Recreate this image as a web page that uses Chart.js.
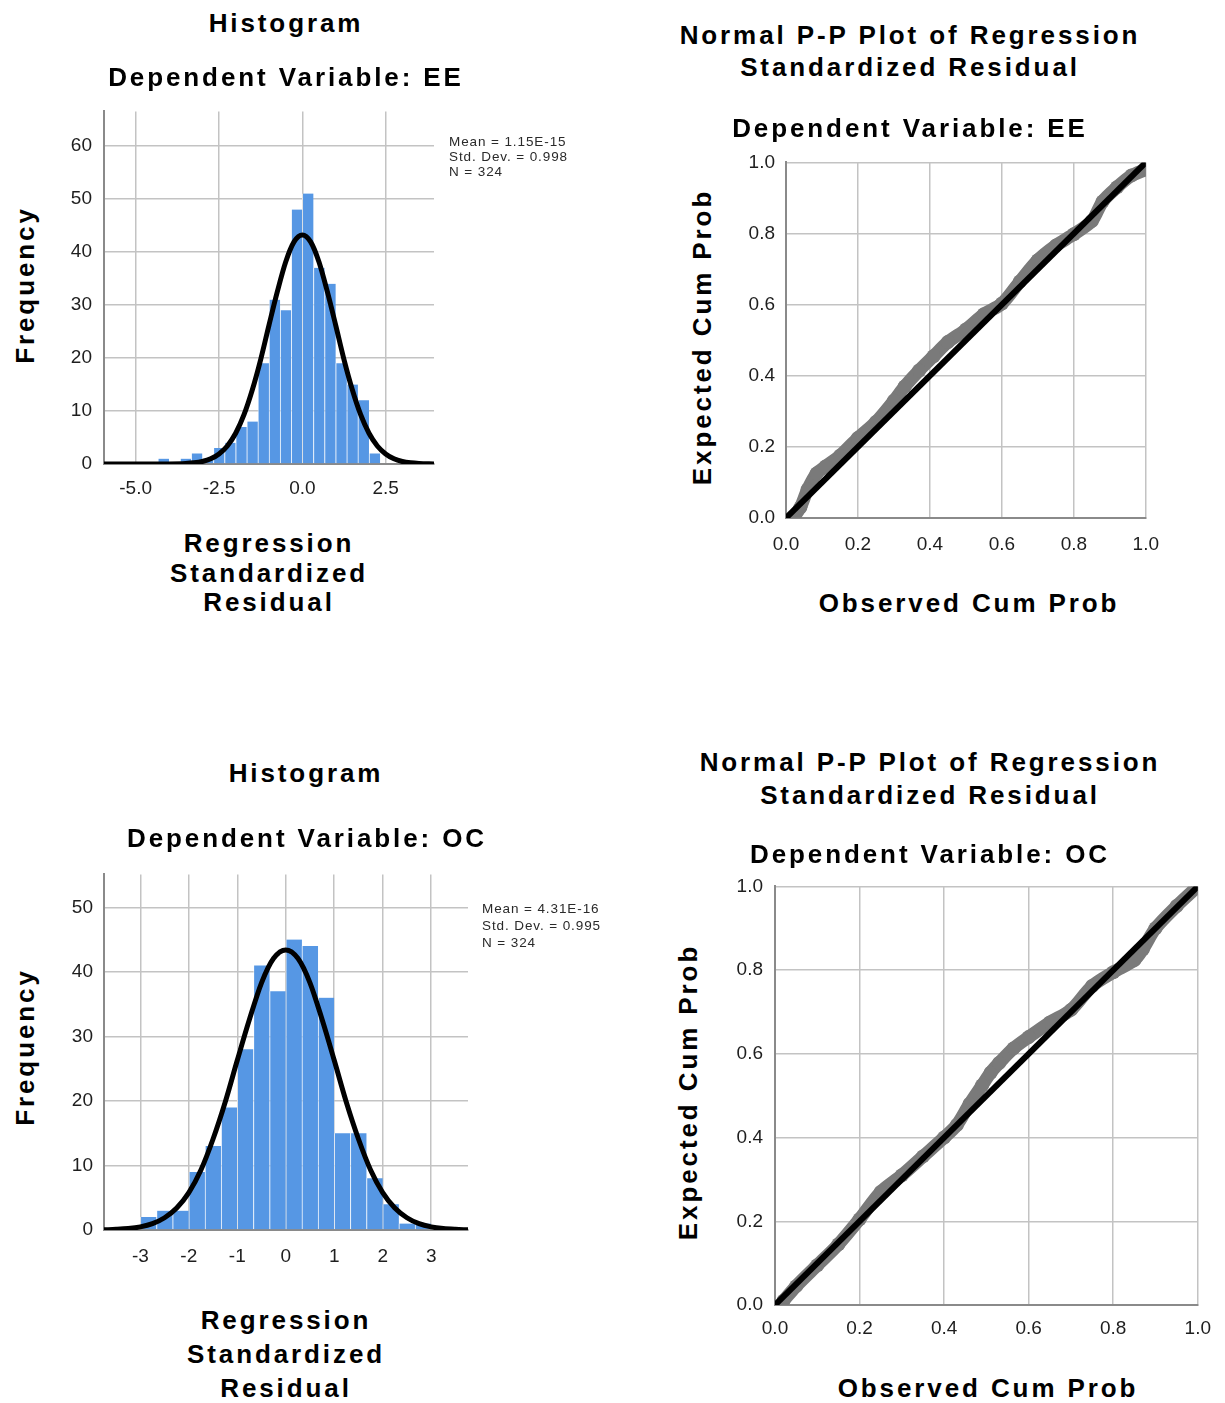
<!DOCTYPE html>
<html>
<head>
<meta charset="utf-8">
<title>Regression residual diagnostics</title>
<script src="https://cdn.jsdelivr.net/npm/chart.js@4.4.1/dist/chart.umd.min.js"></script>
<style>
  html, body { margin: 0; padding: 0; background: #fff; }
  body { width: 1225px; height: 1403px; position: relative; overflow: hidden; font-family: "Liberation Sans", Arial, sans-serif; }
  canvas { position: absolute; }
  .t { position: absolute; white-space: nowrap; font-weight: bold; font-size: 26px; letter-spacing: 2.9px; line-height: 1; color: #000; transform: translate(-50%, -50%); }
  .v { transform: translate(-50%, -50%) rotate(-90deg); }
  .stats { position: absolute; white-space: nowrap; font-size: 13.5px; letter-spacing: 0.9px; color: #2a2a2a; }
</style>
</head>
<body>
<canvas id="histEE"></canvas>
<canvas id="ppEE"></canvas>
<canvas id="histOC"></canvas>
<canvas id="ppOC"></canvas>

<!-- top left: histogram EE -->
<div class="t" style="left:286px; top:23px;">Histogram</div>
<div class="t" style="left:286px; top:77px;">Dependent Variable: EE</div>
<div class="t v" style="left:25px; top:285px;">Frequency</div>
<div class="t" style="left:269px; top:543px;">Regression</div>
<div class="t" style="left:269px; top:573px;">Standardized</div>
<div class="t" style="left:269px; top:602px;">Residual</div>
<div class="stats" style="left:449px; top:134px; line-height:15px;">Mean = 1.15E-15<br>Std. Dev. = 0.998<br>N = 324</div>

<!-- top right: P-P plot EE -->
<div class="t" style="left:910px; top:35px;">Normal P-P Plot of Regression</div>
<div class="t" style="left:910px; top:67px;">Standardized Residual</div>
<div class="t" style="left:910px; top:128px;">Dependent Variable: EE</div>
<div class="t v" style="left:702px; top:337px;">Expected Cum Prob</div>
<div class="t" style="left:969px; top:603px;">Observed Cum Prob</div>

<!-- bottom left: histogram OC -->
<div class="t" style="left:306px; top:773px;">Histogram</div>
<div class="t" style="left:307px; top:838px;">Dependent Variable: OC</div>
<div class="t v" style="left:25px; top:1047px;">Frequency</div>
<div class="t" style="left:286px; top:1320px;">Regression</div>
<div class="t" style="left:286px; top:1354px;">Standardized</div>
<div class="t" style="left:286px; top:1388px;">Residual</div>
<div class="stats" style="left:482px; top:900px; line-height:17px;">Mean = 4.31E-16<br>Std. Dev. = 0.995<br>N = 324</div>

<!-- bottom right: P-P plot OC -->
<div class="t" style="left:930px; top:762px;">Normal P-P Plot of Regression</div>
<div class="t" style="left:930px; top:795px;">Standardized Residual</div>
<div class="t" style="left:930px; top:854px;">Dependent Variable: OC</div>
<div class="t v" style="left:688px; top:1092px;">Expected Cum Prob</div>
<div class="t" style="left:988px; top:1388px;">Observed Cum Prob</div>

<script>
// Histogram EE - bin centres (width 1/3) and counts
const eeBinCenters = [-4.167, -3.833, -3.5, -3.167, -2.833, -2.5, -2.167, -1.833, -1.5, -1.167, -0.833, -0.5, -0.167, 0.167, 0.5, 0.833, 1.167, 1.5, 1.833, 2.167];
const eeCounts = [1, 0, 1, 2, 1, 3, 4, 7, 8, 19, 31, 29, 48, 51, 37, 34, 19, 15, 12, 2];
// normal curve drawn over it
const eeCurveX = [-5.95, -5, -4.5, -4, -3.5, -3.25, -3, -2.75, -2.5, -2.25, -2, -1.75, -1.5, -1.25, -1, -0.75, -0.5, -0.25, 0, 0.25, 0.5, 0.75, 1, 1.25, 1.5, 1.75, 2, 2.25, 2.5, 2.75, 3, 3.25, 3.5, 3.95];
const eeCurveY = [0, 0, 0, 0.01, 0.09, 0.22, 0.48, 0.98, 1.9, 3.4, 5.8, 9.3, 14.0, 19.7, 26.2, 32.5, 38.1, 41.9, 43.2, 41.9, 38.1, 32.5, 26.2, 19.7, 14.0, 9.3, 5.8, 3.4, 1.9, 0.98, 0.48, 0.22, 0.09, 0.01];

// Histogram OC
const ocBinCenters = [-2.833, -2.5, -2.167, -1.833, -1.5, -1.167, -0.833, -0.5, -0.167, 0.167, 0.5, 0.833, 1.167, 1.5, 1.833, 2.167, 2.5, 2.833];
const ocCounts = [2, 3, 3, 9, 13, 19, 28, 41, 37, 45, 44, 36, 15, 15, 8, 4, 1, 1];
const ocCurveX = [-3.75, -3.5, -3.25, -3, -2.75, -2.5, -2.25, -2, -1.75, -1.5, -1.25, -1, -0.75, -0.5, -0.25, 0, 0.25, 0.5, 0.75, 1, 1.25, 1.5, 1.75, 2, 2.25, 2.5, 2.75, 3, 3.25, 3.5, 3.76];
const ocCurveY = [0.04, 0.1, 0.22, 0.48, 0.98, 1.9, 3.4, 5.8, 9.3, 14.1, 19.8, 26.3, 32.6, 38.3, 42.1, 43.4, 42.1, 38.3, 32.6, 26.3, 19.8, 14.1, 9.3, 5.8, 3.4, 1.9, 0.98, 0.48, 0.22, 0.1, 0.04];

// P-P plot EE - observed vs expected cumulative probability
const ppEEObserved = [0.02, 0.04, 0.06, 0.085, 0.11, 0.15, 0.2, 0.25, 0.3, 0.33, 0.37, 0.41, 0.45, 0.5, 0.55, 0.6, 0.65, 0.7, 0.75, 0.8, 0.85, 0.88, 0.92, 0.96, 1.0];
const ppEEExpected = [0.0, 0.03, 0.08, 0.125, 0.145, 0.175, 0.225, 0.27, 0.33, 0.37, 0.415, 0.455, 0.495, 0.53, 0.573, 0.603, 0.665, 0.725, 0.766, 0.798, 0.835, 0.89, 0.93, 0.963, 0.98];
// P-P plot OC
const ppOCObserved = [0.02, 0.05, 0.1, 0.15, 0.2, 0.25, 0.3, 0.35, 0.4, 0.43, 0.46, 0.49, 0.51, 0.53, 0.564, 0.6, 0.65, 0.7, 0.75, 0.8, 0.85, 0.87, 0.9, 0.95, 1.0];
const ppOCExpected = [0.01, 0.045, 0.095, 0.145, 0.205, 0.27, 0.31, 0.355, 0.4, 0.43, 0.48, 0.525, 0.555, 0.578, 0.613, 0.64, 0.675, 0.705, 0.762, 0.795, 0.824, 0.85, 0.9, 0.953, 1.0];
const refLine = [0, 1];

// tick labels
const eeXTicks = [-5, -2.5, 0, 2.5];
const ocXTicks = [-3, -2, -1, 0, 1, 2, 3];
const ppTicks = [0, 0.2, 0.4, 0.6, 0.8, 1.0];

const GRID = '#c3c3c3';
const AXIS = '#8a8a8a';
const BLUE = '#5697e4';
const TICK_FONT = { family: 'Liberation Sans', size: 19 };

function zip(xs, ys) {
    return xs.map((x, i) => ({ x: x, y: ys[i] }));
}

// place a canvas so that its plot area lands on the given box
function placeCanvas(id, area, padRight) {
    const canvas = document.getElementById(id);
    const w = area.r - area.l + 60 + padRight;
    const h = area.b - area.t + 15 + 45;
    canvas.width = w;
    canvas.height = h;
    canvas.style.left = (area.l - 60) + 'px';
    canvas.style.top = (area.t - 15) + 'px';
    canvas.style.width = w + 'px';
    canvas.style.height = h + 'px';
    return canvas.getContext('2d');
}

function axis(min, max, step, tickValues, padding, fmt, isX) {
    return {
        type: 'linear',
        min: min,
        max: max,
        offset: false,
        grid: { color: GRID, lineWidth: 1.5, drawTicks: false, offset: false },
        border: { display: true, color: AXIS, width: 2 },
        ticks: {
            stepSize: step,
            includeBounds: false,
            autoSkip: false,
            maxRotation: 0,
            padding: padding,
            color: '#1e1e1e',
            font: TICK_FONT,
            callback: v => tickValues.some(t => Math.abs(t - v) < 1e-9) ? fmt(v) : ''
        },
        afterFit: s => {
            if (isX) s.height = 45; else s.width = 60;
        }
    };
}

function baseOptions(scales) {
    return {
        responsive: false,
        animation: false,
        layout: { padding: { top: 15, right: 22, left: 0, bottom: 0 } },
        plugins: { legend: { display: false }, tooltip: { enabled: false }, title: { display: false } },
        scales: scales
    };
}

function drawHistogram(id, area, centers, counts, curveX, curveY, x, y) {
    const ctx = placeCanvas(id, area, 22);
    new Chart(ctx, {
        type: 'bar',
        data: {
            datasets: [
                {
                    type: 'line',
                    data: zip(curveX, curveY),
                    borderColor: '#000',
                    borderWidth: 5,
                    pointRadius: 0,
                    tension: 0.4,
                    cubicInterpolationMode: 'monotone',
                    fill: false,
                    order: 0
                },
                {
                    type: 'bar',
                    data: zip(centers, counts),
                    backgroundColor: BLUE,
                    borderColor: 'rgba(255,255,255,0.55)',
                    borderWidth: { left: 1, right: 0, top: 0, bottom: 0 },
                    borderSkipped: false,
                    barPercentage: 1,
                    categoryPercentage: 1,
                    order: 1
                }
            ]
        },
        options: baseOptions({ x: x, y: y })
    });
}

function drawPP(id, area, observed, expected, x, y, padRight) {
    const ctx = placeCanvas(id, area, padRight);
    new Chart(ctx, {
        type: 'scatter',
        data: {
            datasets: [
                {
                    data: zip(refLine, refLine),
                    showLine: true,
                    borderColor: '#000',
                    borderWidth: 6,
                    pointRadius: 0,
                    order: 0
                },
                {
                    data: zip(observed, expected),
                    showLine: true,
                    borderColor: '#7a7a7a',
                    borderWidth: 13,
                    borderCapStyle: 'round',
                    borderJoinStyle: 'round',
                    tension: 0.3,
                    pointRadius: 7,
                    pointBackgroundColor: '#7a7a7a',
                    pointBorderWidth: 0,
                    order: 1
                }
            ]
        },
        options: baseOptions({ x: x, y: y })
    });
}

const one = v => v.toFixed(1);
const whole = v => String(Math.round(v));

drawHistogram('histEE', { l: 104, t: 103, r: 434, b: 464 }, eeBinCenters, eeCounts, eeCurveX, eeCurveY,
    axis(-5.95, 3.95, 2.5, eeXTicks, 13, one, true),
    axis(0, 66.5, 10, [0, 10, 20, 30, 40, 50, 60], 12, whole, false));

drawHistogram('histOC', { l: 104, t: 867, r: 468, b: 1230 }, ocBinCenters, ocCounts, ocCurveX, ocCurveY,
    axis(-3.75, 3.76, 1, ocXTicks, 15, whole, true),
    axis(0, 55.1, 10, [0, 10, 20, 30, 40, 50], 11, whole, false));

drawPP('ppEE', { l: 786, t: 155, r: 1152, b: 518 }, ppEEObserved, ppEEExpected,
    axis(0, 1, 0.2, ppTicks, 15, one, true),
    axis(0, 1, 0.2, ppTicks, 11, one, false), 22);

drawPP('ppOC', { l: 775, t: 878, r: 1203, b: 1305 }, ppOCObserved, ppOCExpected,
    axis(0, 1, 0.2, ppTicks, 12, one, true),
    axis(0, 1, 0.2, ppTicks, 12, one, false), 20);
</script>
</body>
</html>
